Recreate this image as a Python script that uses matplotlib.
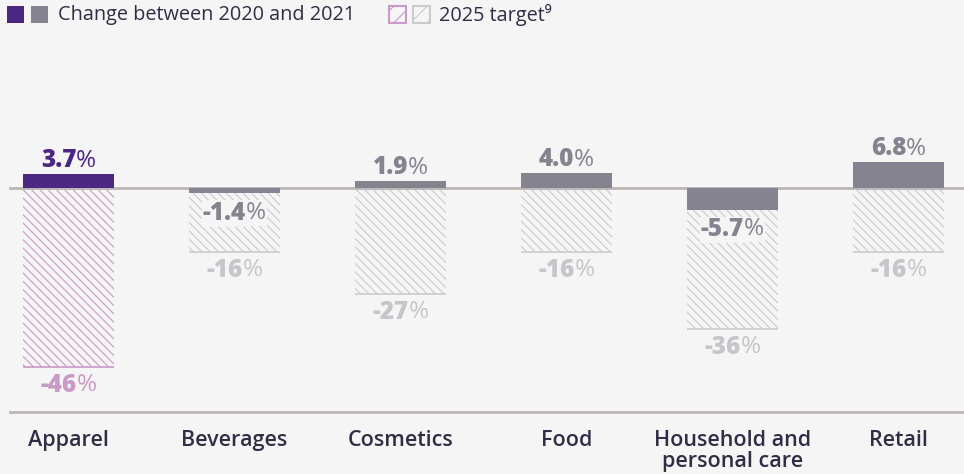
import matplotlib
matplotlib.use("Agg")
import matplotlib.pyplot as plt
import matplotlib.transforms as mtransforms
from matplotlib.patches import Rectangle

categories = ["Apparel", "Beverages", "Cosmetics", "Food", "Household and\npersonal care", "Retail"]
change_2020_2021 = [3.7, -1.4, 1.9, 4.0, -5.7, 6.8]
target_2025 = [-46, -16, -27, -16, -36, -16]
change_labels = ["3.7", "-1.4", "1.9", "4.0", "-5.7", "6.8"]
target_labels = ["-46", "-16", "-27", "-16", "-36", "-16"]
highlight = [True, False, False, False, False, False]

BG = "#f5f5f5"
PURPLE = "#4b2683"
GREY = "#85838f"
PINK = "#c89ac6"
LGREY = "#cbcace"
TLGREY = "#c6c5ca"
DARK = "#2f2e45"
LINE = "#bbb5b5"
FONT = ["Open Sans", "DejaVu Sans"]

plt.rcParams["hatch.linewidth"] = 0.8
plt.rcParams["font.family"] = FONT

fig = plt.figure(figsize=(9.64, 4.74), dpi=100, facecolor=BG)
ax = fig.add_axes([0, 0, 1, 1], facecolor=BG)
ax.set_xlim(-0.4127, 5.3946)
ax.set_ylim(-74.3, 48.8)
ax.axis("off")

x = list(range(len(categories)))
width = 0.548

# baseline and bottom rule
ax.axhline(0, xmin=10 / 964, xmax=1, color=LINE, lw=2, zorder=1)
ax.axhline(-58.2, xmin=10 / 964, xmax=1, color=LINE, lw=2, zorder=1)

for i in x:
    hc = PINK if highlight[i] else LGREY
    ax.bar(i, target_2025[i], width=width, bottom=-0.6, color="none",
           edgecolor=hc, hatch="\\\\\\\\", linewidth=0, zorder=2)
    ax.hlines(target_2025[i] - 0.6, i - width / 2, i + width / 2, color=hc, lw=1.2, zorder=2)
    bc = PURPLE if highlight[i] else GREY
    ax.bar(i, change_2020_2021[i], width=width, color=bc, linewidth=0, zorder=3)

fig.canvas.draw()
renderer = fig.canvas.get_renderer()


def two_part(xv, yv, num, col, va, dy_pts, bbox=False, size=17.5):
    t1 = ax.text(xv, yv, num, fontsize=size, fontweight="heavy", color=col,
                 ha="left", va=va, zorder=5)
    t2 = ax.text(xv, yv, "%", fontsize=size, fontweight="normal", color=col,
                 ha="left", va=va, zorder=5)
    w1 = t1.get_window_extent(renderer).width
    w2 = t2.get_window_extent(renderer).width
    tot = w1 + w2
    dy = dy_pts * 100 / 72
    t1.set_transform(mtransforms.offset_copy(ax.transData, fig, x=-tot / 2, y=dy, units="dots"))
    t2.set_transform(mtransforms.offset_copy(ax.transData, fig, x=-tot / 2 + w1, y=dy, units="dots"))
    if bbox:
        t1.set_bbox(dict(facecolor=BG, edgecolor="none", pad=0.5))
        t2.set_bbox(dict(facecolor=BG, edgecolor="none", pad=0.5))


for i in x:
    col = PURPLE if highlight[i] else GREY
    v = change_2020_2021[i]
    if v >= 0:
        two_part(i, v, change_labels[i], col, "bottom", 0.5)
    else:
        two_part(i, v, change_labels[i], col, "top", -5.5, bbox=True)
    tcol = PINK if highlight[i] else TLGREY
    two_part(i, target_2025[i], target_labels[i], tcol, "top", -6)

for i, c in enumerate(categories):
    ax.text(i, -58.2, c, fontsize=15.5, fontweight="semibold", color=DARK,
            ha="center", va="top", linespacing=1.05,
            transform=mtransforms.offset_copy(ax.transData, fig, y=-17.5, units="dots"))

# legend
def px(xp, yp):
    return xp / 964, 1 - yp / 474

for (x0, fc, ec, hatch) in [(7, PURPLE, "none", None), (31, GREY, "none", None),
                            (389, "none", PINK, "//"), (413, "none", LGREY, "//")]:
    xf, yf = px(x0, 23)
    r = Rectangle((xf, yf), 17 / 964, 17 / 474, transform=fig.transFigure,
                  facecolor=fc, edgecolor=ec, hatch=hatch,
                  linewidth=1.5 if hatch else 0)
    fig.patches.append(r)

fig.text(*px(58, 15), "Change between 2020 and 2021", fontsize=14.3, color=DARK,
         ha="left", va="center")
fig.text(*px(439, 15), "2025 target\u2079", fontsize=14.3, color=DARK,
         ha="left", va="center")

fig.savefig("out.png", dpi=100, facecolor=BG)
